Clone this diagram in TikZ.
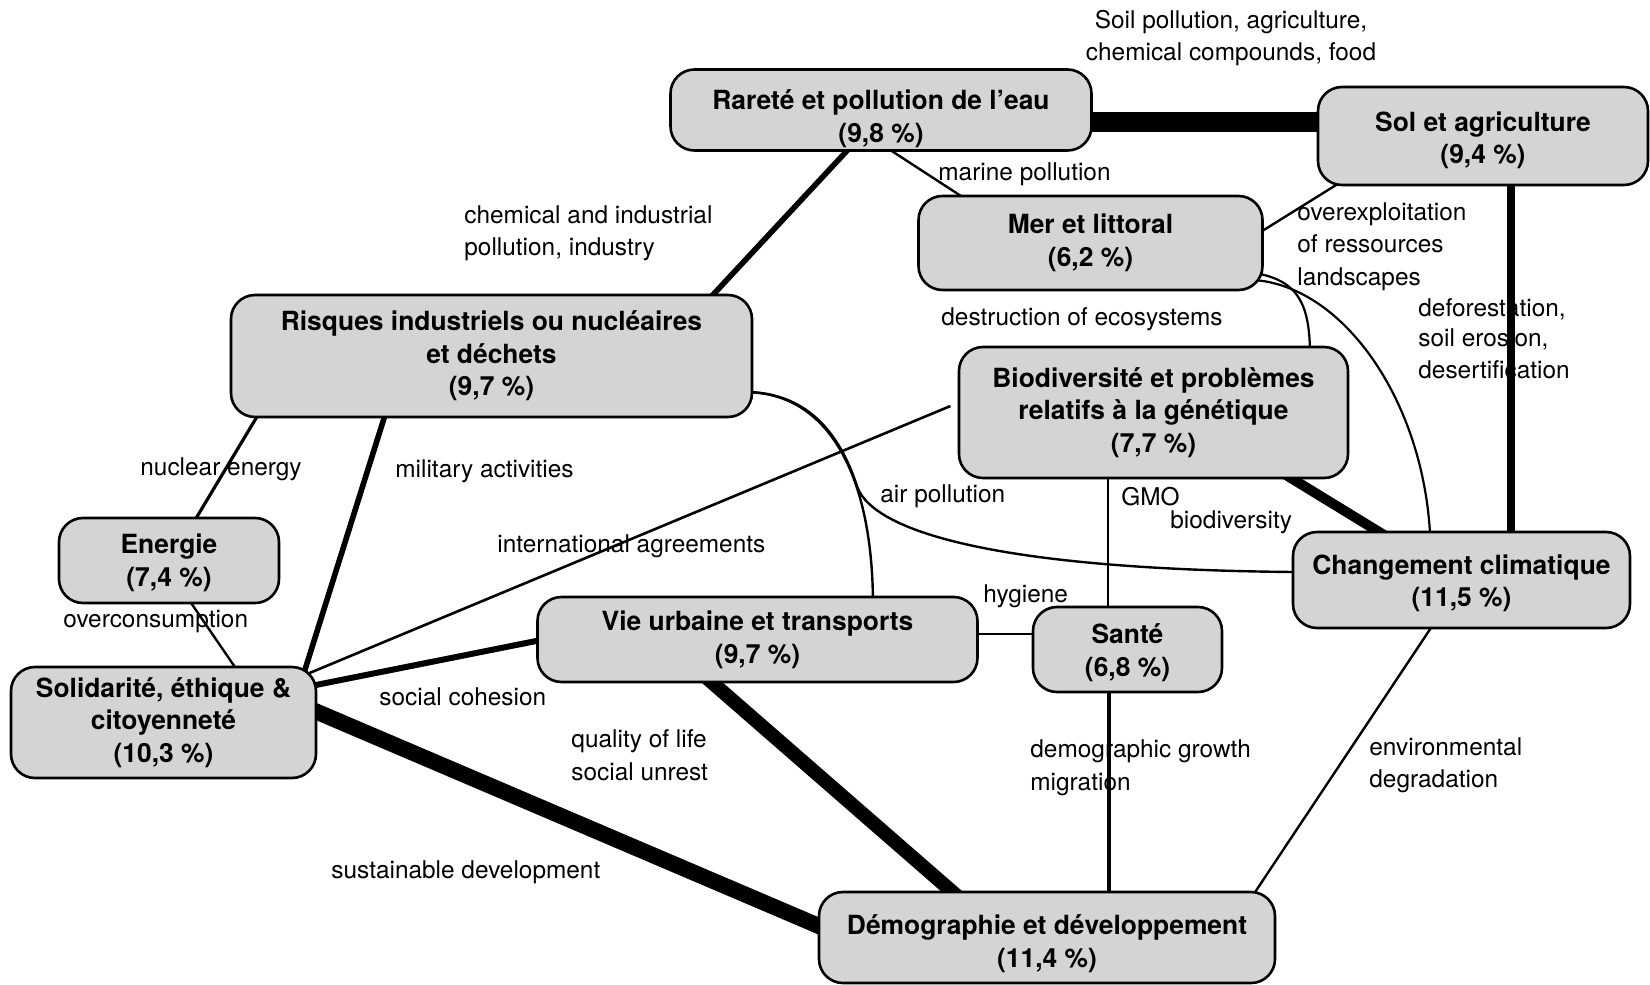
\documentclass[tikz,border=0pt]{standalone}
\usepackage{fontspec}
\setmainfont{TeX Gyre Heros}
\usetikzlibrary{calc,backgrounds}
\newcommand{\lowerby}[1]{\rule{0pt}{\dimexpr 10pt+2\dimexpr #1\relax\relax}}
\begin{document}
\begin{tikzpicture}[x=0.5pt,y=-0.5pt,
  topic/.style={draw=black, line width=1.3pt, fill=black!17, rounded corners=12pt,
    align=center, inner sep=0pt, font=\fontsize{13.2}{16.3}\selectfont\bfseries},
  lbl/.style={inner sep=0pt, anchor=base west, font=\fontsize{12.2}{16}\selectfont},
  link/.style={draw=black, line width=#1, shorten <=-5pt, shorten >=-5pt}
]
\useasboundingbox (0,0) rectangle (1650,985);

% topics
\node[topic, minimum width=210.5pt, minimum height=40.5pt] (rar) at (881,110) {\lowerby{4.25pt}Rareté et pollution de l'eau\\(9,8 \%)};
\node[topic, minimum width=165pt, minimum height=49pt] (sol) at (1483,136) {\lowerby{2pt}Sol et agriculture\\(9,4 \%)};
\node[topic, minimum width=172pt, minimum height=47pt] (mer) at (1090.5,243) {Mer et littoral\\(6,2 \%)};
\node[topic, minimum width=260.5pt, minimum height=61pt] (ris) at (491.5,356) {Risques industriels ou nucléaires\\et déchets\\(9,7 \%)};
\node[topic, minimum width=194.5pt, minimum height=65.5pt] (bio) at (1153.5,412.5) {Biodiversité et problèmes\\relatifs à la génétique\\(7,7 \%)};
\node[topic, minimum width=110pt, minimum height=42.5pt] (ene) at (169,560.5) {\lowerby{1pt}Energie\\(7,4 \%)};
\node[topic, minimum width=168.5pt, minimum height=48pt] (cha) at (1461.5,580) {\lowerby{1.5pt}Changement climatique\\(11,5 \%)};
\node[topic, minimum width=220pt, minimum height=42.5pt] (vie) at (757.5,639.5) {Vie urbaine et transports\\(9,7 \%)};
\node[topic, minimum width=94.5pt, minimum height=42.5pt] (san) at (1127.5,649.5) {\lowerby{1.5pt}Santé\\(6,8 \%)};
\node[topic, minimum width=152.5pt, minimum height=55.5pt] (sod) at (163.5,722.5) {Solidarité, éthique \&\\citoyenneté\\(10,3 \%)};
\node[topic, minimum width=228pt, minimum height=45.5pt] (dem) at (1047,937.5) {\lowerby{3.15pt}Démographie et développement\\(11,4 \%)};

\coordinate (apj) at (857.6,487.8);

\begin{scope}[on background layer]
\fill[white] (0,0) rectangle (1650,985);

% labels
\node[lbl, anchor=base] (t1) at (1231,28) {Soil pollution, agriculture,};
\node[lbl, anchor=base] (t2) at (1231,60) {chemical compounds, food};
\node[lbl] (t3) at (938,180) {marine pollution};
\node[lbl] (t4) at (464,223) {chemical and industrial};
\node[lbl] (t5) at (464,255) {pollution, industry};
\node[lbl] (t6) at (1297,220) {overexploitation};
\node[lbl] (t7) at (1297,252) {of ressources};
\node[lbl] (t8) at (1297,285) {landscapes};
\node[lbl] (t9) at (1418,316) {deforestation,};
\node[lbl] (t10) at (1418,346) {soil erosion,};
\node[lbl] (t11) at (1418,378) {desertification};
\node[lbl] (t12) at (941,325) {destruction of ecosystems};
\node[lbl] (t13) at (140,475) {nuclear energy};
\node[lbl] (t14) at (395,477) {military activities};
\node[lbl] (t15) at (880,502) {air pollution};
\node[lbl] (t16) at (1121,505) {GMO};
\node[lbl] (t17) at (1170,528) {biodiversity};
\node[lbl] (t18) at (497,552) {international agreements};
\node[lbl] (t19) at (63,627) {overconsumption};
\node[lbl] (t20) at (983,602) {hygiene};
\node[lbl] (t21) at (379,705) {social cohesion};
\node[lbl] (t22) at (571,747) {quality of life};
\node[lbl] (t23) at (571,780) {social unrest};
\node[lbl] (t24) at (1030,757) {demographic growth};
\node[lbl] (t25) at (1030,790) {migration};
\node[lbl] (t26) at (1369,755) {environmental};
\node[lbl] (t27) at (1369,787) {degradation};
\node[lbl] (t28) at (331,878) {sustainable development};

% links
\draw[link=10pt] ($(rar.east)+(-4,12)$) -- ($(sol.west)+(4,-14)$);
\draw[link=2.8pt] ($(rar.south)+(-35,0)$) -- ($(ris.north)+(222.5,0)$);
\draw[link=1.2pt] ($(rar.south)+(12,0)$) -- ($(mer.north)+(-131.5,0)$);
\draw[link=1.2pt] ($(sol.south)+(-149,0)$) -- ($(mer.east)+(0,-13)$);
\draw[link=4.3pt] ($(sol.south)+(28,0)$) -- ($(cha.north)+(49.5,0)$);
\draw[link=1.1pt] ($(mer.east)+(-5,37)$) .. controls +(82,2) and +(-5,-131) .. ($(cha.north)+(-31.5,0)$);
\draw[link=1.1pt] ($(mer.east)+(-7,30)$) .. controls +(40,5) and +(0,-45) .. ($(bio.north)+(156.5,0)$);
\draw[link=1.6pt] ($(ris.south)+(-235.5,0)$) -- ($(ene.north)+(28,0)$);
\draw[link=2.8pt] ($(ris.south)+(-107.5,0)$) -- ($(sod.north east)+(-12,3)$);
\draw[link=1.2pt] ($(ris.east)+(1,36)$) .. controls +(77,0) and +(0,-116) .. ($(vie.north)+(115.5,0)$);
\draw[link=1.2pt] ($(ris.east)+(1,36)$) .. controls +(50,0) and +(-18.8,-58.2) .. (apj)
   .. controls +(18,45) and +(-290,-2) .. ($(cha.west)+(0,-8)$);
\draw[link=1.3pt, shorten <=4pt] ($(bio.west)+(0,-9.5)$) -- ($(sod.north east)+(-7,7)$);
\draw[link=1pt] ($(bio.south)+(-45.5,0)$) -- ($(san.north)+(-19.5,0)$);
\draw[link=5pt] ($(bio.south)+(139.5,0)$) -- ($(cha.north)+(-84.5,0)$);
\draw[link=1.2pt] ($(ene.south)+(23,0)$) -- ($(sod.north)+(70.5,0)$);
\draw[link=3pt] ($(vie.west)+(0,1.5)$) -- ($(sod.north east)+(0,19)$);
\draw[link=1pt] ($(vie.east)+(0,-5.5)$) -- ($(san.west)+(0,-15.5)$);
\draw[link=7pt] ($(vie.south)+(-44.5,0)$) -- ($(dem.north)+(-96,0)$);
\draw[link=8pt] ($(sod.east)+(0,-10.5)$) -- ($(dem.west)+(0,-12)$);
\draw[link=1.8pt] ($(san.south)+(-18.5,0)$) -- ($(dem.north)+(62,0)$);
\draw[link=1.2pt] ($(cha.south)+(-31.5,0)$) -- ($(dem.north)+(209,0)$);
\end{scope}
\end{tikzpicture}
\end{document}
